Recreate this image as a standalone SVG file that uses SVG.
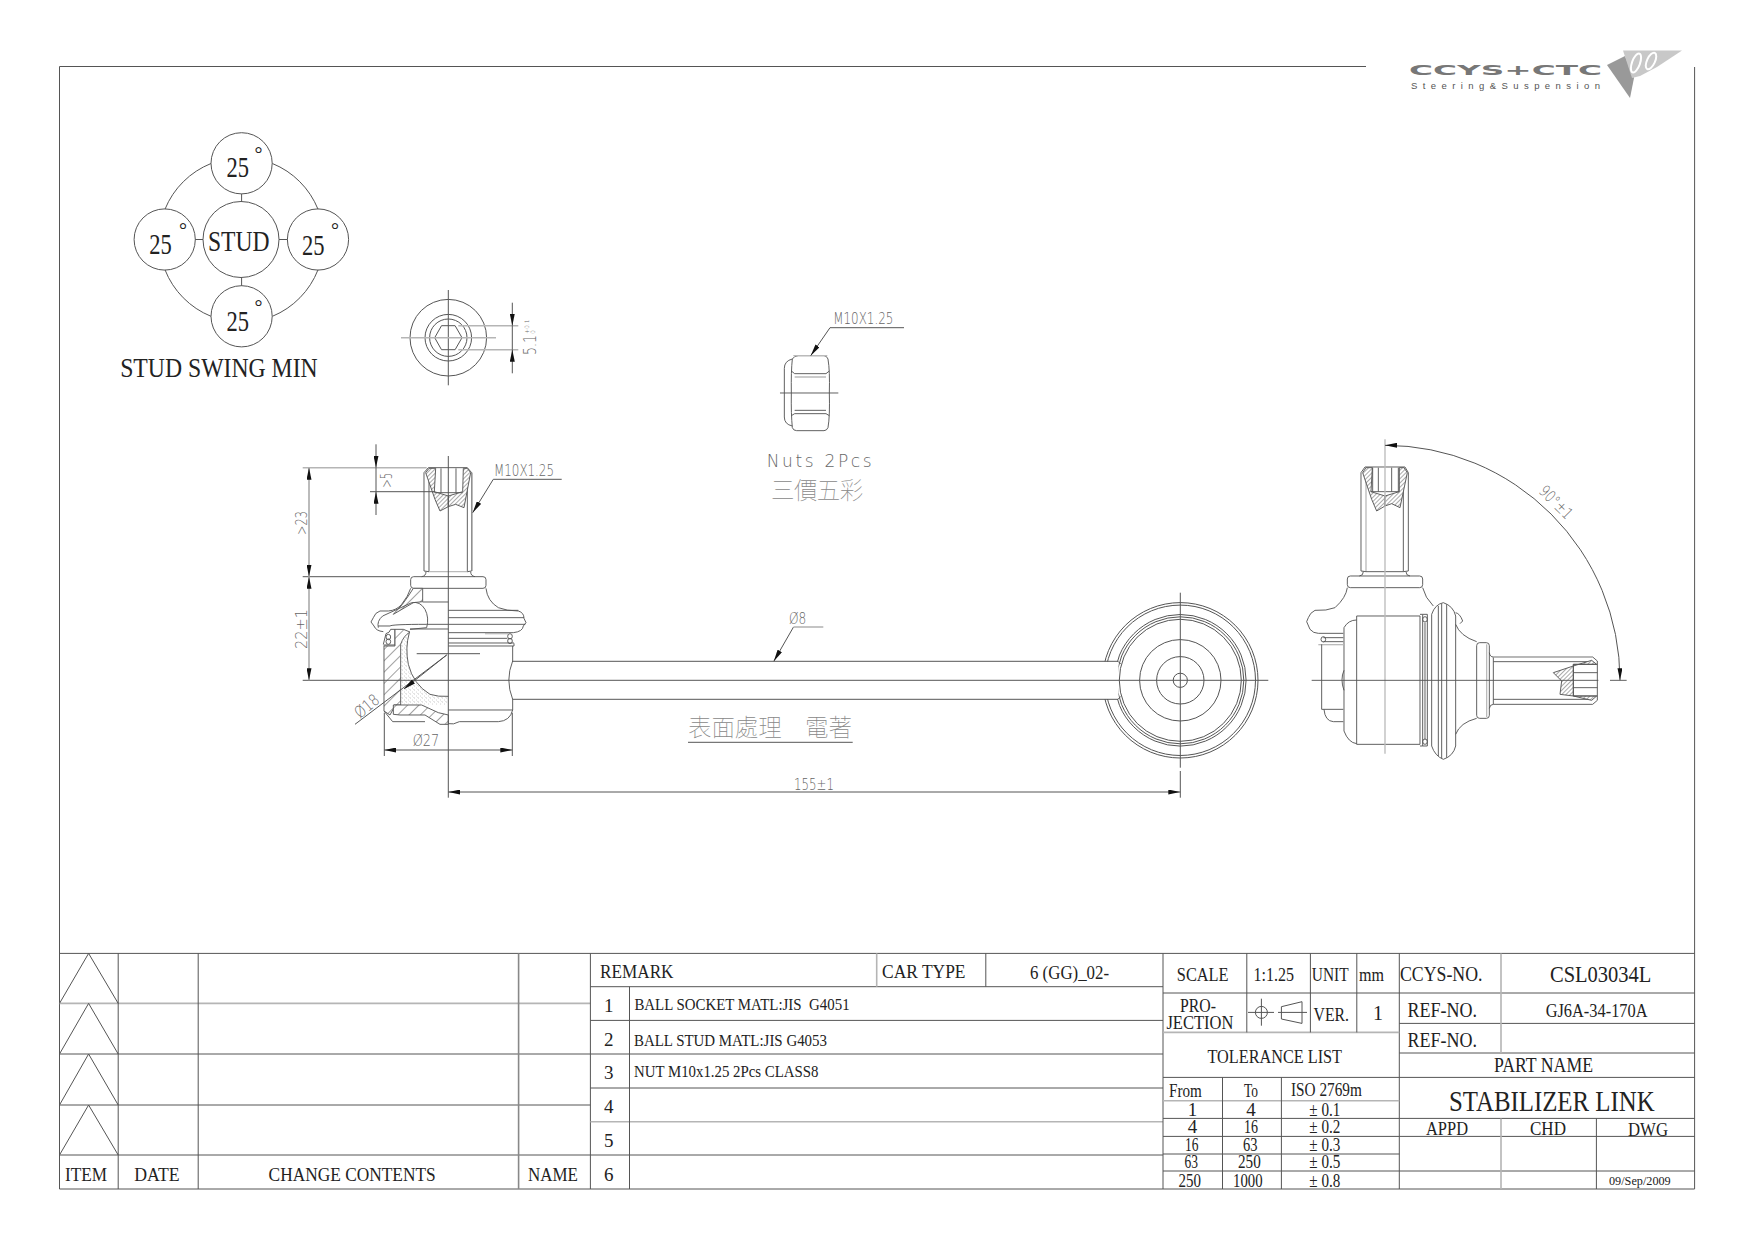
<svg xmlns="http://www.w3.org/2000/svg" width="1754" height="1240" viewBox="0 0 1754 1240">
<style>
text{white-space:pre}
.t{font-family:"Liberation Serif","Noto Sans CJK TC",serif;fill:#222;font-size:19px}
.s{font-size:17px}
.b{font-size:29px}
.d{font-family:"DejaVu Sans","Liberation Sans",sans-serif;font-weight:200;fill:#666;font-size:15px}
.k{font-family:"Noto Sans CJK TC",sans-serif;fill:#888;font-size:23.5px;font-weight:100}
.l{fill:none;stroke:#555;stroke-width:1}
.g{fill:none;stroke:#b5b5b5;stroke-width:1.6}
.z{fill:none;stroke:#555;stroke-width:2.8}
.y{fill:none;stroke:#bbb;stroke-width:4}
.h{fill:url(#h);stroke:#555;stroke-width:2.8}
.f{fill:url(#f);stroke:#555;stroke-width:2.8}
.p{fill:url(#p);stroke:none}
.w{fill:#fff;stroke:#555;stroke-width:2.8}
.r{fill:none;stroke:#555;stroke-width:1;marker-end:url(#a)}
.rr{fill:none;stroke:#555;stroke-width:1;marker-start:url(#a);marker-end:url(#a)}
.rg{fill:none;stroke:#aaa;stroke-width:1.6;marker-start:url(#a);marker-end:url(#a)}
</style>
<defs>
<marker id="a" markerUnits="userSpaceOnUse" markerWidth="12" markerHeight="5" refX="12" refY="2.5" orient="auto-start-reverse"><path d="M0 0L12 2.5L0 5Z" fill="#111"/></marker>
<pattern id="h" width="24" height="24" patternUnits="userSpaceOnUse" patternTransform="rotate(45)"><rect width="24" height="24" fill="#fff"/><path d="M0 0V24" stroke="#444" stroke-width="3"/></pattern>
<pattern id="f" width="9" height="9" patternUnits="userSpaceOnUse" patternTransform="rotate(45)"><rect width="9" height="9" fill="#fff"/><path d="M0 0V9" stroke="#555" stroke-width="3"/></pattern>
<pattern id="p" width="12" height="12" patternUnits="userSpaceOnUse"><circle cx="2" cy="3" r="1.2" fill="#888"/><circle cx="8" cy="9" r="1.2" fill="#999"/><circle cx="10" cy="2" r="1" fill="#aaa"/></pattern>
</defs>

<g id="frame">
<path class="l" d="M1366 66.5H59.500V1189H1694.600V67"/>
</g>

<g id="logo">
<text x="1409" y="75" font-family="DejaVu Sans" font-weight="700" font-size="14.5" fill="#777" textLength="193" lengthAdjust="spacingAndGlyphs">CCYS+CTC</text>
<text x="1411" y="88.500" font-family="Liberation Sans" font-size="9.5" fill="#555" textLength="189" lengthAdjust="spacing">Steering&amp;Suspension</text>
<path d="M1607 65L1625 56L1634 78L1630 98Z" fill="#999"/>
<path d="M1623 50.500H1682L1657 67L1640 76L1632 78Z" fill="#c8c8c8"/>
<ellipse cx="1636" cy="63" rx="4" ry="10" transform="rotate(20 1636 63)" fill="none" stroke="#fff" stroke-width="2"/>
<ellipse cx="1651" cy="61" rx="4" ry="9" transform="rotate(25 1651 61)" fill="none" stroke="#fff" stroke-width="2"/>
</g>

<g id="stud-swing" transform="translate(0,0.5)">
<path class="l" d="M211 163A83 83 0 0 0 165 208.700M272.400 163A83 83 0 0 1 318 208.700M165 269.300A83 83 0 0 0 211 315.800M318 269.300A83 83 0 0 1 272.400 315.800M241.600 193.300V201M241.600 277.300V285.300M195.200 239H203M279 239H287.500"/>
<circle class="l" cx="241.600" cy="162.800" r="30.600"/>
<circle class="l" cx="164.700" cy="239" r="30.600"/>
<circle class="l" cx="318" cy="239" r="30.600"/>
<circle class="l" cx="241.600" cy="315.800" r="30.600"/>
<circle class="l" cx="241" cy="239" r="38"/>
<text class="t b" x="226.500" y="176.700" textLength="22.500" lengthAdjust="spacingAndGlyphs">25</text>
<text class="t b" x="149.300" y="253.300" textLength="22.500" lengthAdjust="spacingAndGlyphs">25</text>
<text class="t b" x="302" y="254.300" textLength="22.500" lengthAdjust="spacingAndGlyphs">25</text>
<text class="t b" x="226.500" y="330" textLength="22.500" lengthAdjust="spacingAndGlyphs">25</text>
<text class="t" x="258.400" y="160" text-anchor="middle" style="font-size:20px">°</text>
<text class="t" x="182.900" y="236.700" text-anchor="middle" style="font-size:20px">°</text>
<text class="t" x="335" y="236.700" text-anchor="middle" style="font-size:20px">°</text>
<text class="t" x="258.400" y="313" text-anchor="middle" style="font-size:20px">°</text>
<text class="t b" x="208" y="250" textLength="61.600" lengthAdjust="spacingAndGlyphs">STUD</text>
<text class="t b" x="120.200" y="376.700" style="font-size:28px" textLength="197.500" lengthAdjust="spacingAndGlyphs">STUD SWING MIN</text>
</g>

<g id="hex-end" transform="translate(0,1)">
<circle class="l" cx="448.300" cy="336.700" r="38.300"/>
<circle class="l" cx="448.300" cy="336.700" r="23.300"/>
<circle class="l" cx="448.300" cy="336.700" r="18.700"/>
<path class="l" d="M434.700 336.700L441.500 324.700H455.100L462 336.700L455.100 348.700H441.500Z"/>
<path class="l" d="M448.300 289V384.300"/>
<path class="g" d="M401 336.700H496"/>
<path class="g" d="M458.300 324.700H518.300M458.300 348.700H518.300"/>
</g>

<g id="nut" transform="translate(390,281) scale(0.33333)">
<path class="z" d="M1207 234Q1213 224 1225 224H1302Q1310 224 1314 234Q1320 270 1318 336Q1320 405 1314 440Q1310 449 1302 449H1220Q1210 449 1207 440Q1203 400 1204 336Q1203 270 1207 234Z"/>
<path class="z" d="M1207 234Q1183 240 1183 262V408Q1183 430 1207 435"/>
<path class="z" d="M1204 270L1214 278H1308L1318 270M1204 404L1214 398H1308L1318 404M1214 388H1308"/>
<path class="y" d="M1214 288H1308M1210 224H1312"/>
<path class="z" d="M1170 336H1345"/>
</g>
<g id="nut-labels">
<text class="d" x="766.700" y="466.500" style="font-size:17px" textLength="105" lengthAdjust="spacing">Nuts 2Pcs</text>
<text class="k" x="771" y="499" textLength="92.300">三價五彩</text>
</g>

<g id="front-stud" transform="translate(280,441) scale(0.33333)">
<path class="z" d="M432 390V95L445 80H562L575 95V390"/>
<path class="z" d="M447 85V392M562 85V392"/>
<path class="y" d="M577 95V390M445 392H565"/>
<path class="z" d="M432 390L447 392M575 390L562 392M438 392Q438 405 425 407M572 392Q572 405 585 407"/>
<path class="f" d="M437 95L447 82H467L463 152L505 165V197L480 210L465 175Z"/>
<path class="f" d="M572 95L562 82H550L548 152L505 165V197L527 190L552 200Z"/>
<path class="z" d="M483 82V155M528 82V155M463 155H548"/>
</g>

<g id="front-joint" transform="translate(370,561) scale(0.33333)">
<rect class="z" x="122" y="47" width="226" height="35" rx="9"/>
<path class="z" d="M348 82Q352 120 385 140Q410 150 445 150Q462 155 462 172L468 185L460 195Q458 212 430 215H235"/>
<path class="z" d="M235 148H445M235 170H462M235 190H466M235 232H412M235 246H432"/>
<path class="y" d="M345 218H415"/>
<ellipse class="z" cx="420" cy="226" rx="7" ry="8"/>
<ellipse class="z" cx="420" cy="240" rx="7" ry="8"/>
<path class="z" d="M235 255H432V247"/>
<path class="z" d="M428 255V300Q405 357 428 415V447Q420 480 385 482H268Q250 492 235 488M235 447H428"/>
<path class="h" d="M130 82H158V122L130 125L70 160Q100 130 115 105Z"/>
<path class="z" d="M122 82Q115 105 95 130Q80 148 55 150H30Q15 155 10 170L3 183L12 195Q18 210 40 212"/>
<path class="z" d="M25 200Q20 180 38 165L125 125Q150 120 165 145Q178 170 170 200L120 205M25 195H60Q65 190 170 190"/>
<path class="z" d="M158 123H235M170 190H235M120 204H235"/>
<path class="z" d="M40 252H75V205H62Q60 215 48 218L40 250"/>
<ellipse class="z" cx="55" cy="228" rx="7" ry="8"/>
<ellipse class="z" cx="55" cy="242" rx="7" ry="8"/>
<path class="h" d="M42 255H75V205H100L120 213Q100 225 92 250V432H72V440L60 462L42 450Z"/>
<path class="p" d="M118 215Q105 260 115 310Q130 370 180 400Q205 408 235 406V432H180L150 430H92V250Q100 225 118 215Z"/>
<path class="z" d="M118 215Q105 260 115 310Q130 370 180 400Q205 408 235 406"/>
<path class="h" d="M70 432H155L205 455L235 462V490H210L165 462H90L70 460Z"/>
<path class="z" d="M42 450L68 482H165"/>
</g>

<g id="rod-eye" transform="translate(0,1)">
<circle class="l" cx="1180.300" cy="679.300" r="77.700"/>
<circle class="l" cx="1180.300" cy="679.300" r="75.200"/>
<circle class="l" cx="1180.300" cy="679.300" r="65.800"/>
<circle class="l" cx="1180.300" cy="679.300" r="63.500"/>
<rect x="1095" y="660.500" width="23.500" height="37.600" fill="#fff"/>
<circle class="l" cx="1180.300" cy="679.300" r="61"/>
<circle class="l" cx="1180.300" cy="679.300" r="40.700"/>
<circle class="l" cx="1180.300" cy="679.300" r="23.700"/>
<circle class="l" cx="1180.300" cy="679.300" r="7.100"/>
<path class="l" d="M512.300 660.300H1118L1120.700 663M512.300 698.300H1118L1120.700 695.500"/>
<path class="l" d="M1180.300 591.700V766.700M1180.300 770V796.700"/>
</g>

<g id="side-view" transform="translate(1290,431) scale(0.33333)">
<path class="z" d="M213 420V125L225 108H345L355 125V420"/>
<path class="z" d="M340 115V422"/>
<path class="y" d="M228 115V422"/>
<path class="z" d="M213 420L228 422H340L355 420M220 422Q220 434 208 435M348 422Q348 434 360 435"/>
<path class="f" d="M218 125L228 110H247L243 182L285 195V225L260 240L245 205Z"/>
<path class="f" d="M352 125L342 110H328L328 182L285 195V225L305 218L330 230Z"/>
<path class="z" d="M248 110V182M265 110V182M305 110V182M325 110V182M243 182H328"/>
<rect class="z" x="172" y="435" width="226" height="35" rx="9"/>
<path class="z" d="M172 470Q168 500 135 530Q110 540 75 538Q60 545 55 560L50 572L60 595Q70 607 85 607H160"/>
<path class="z" d="M398 470Q405 500 430 525"/>
<path class="z" d="M200 555H390V940H200Z"/>
<path class="z" d="M200 567Q175 567 162 590V900Q175 935 200 938"/>
<path class="z" d="M390 550H398V945H390M398 550H412M398 945H412M405 575V925M412 550V945"/>
<ellipse class="z" cx="405" cy="565" rx="7" ry="8"/>
<ellipse class="z" cx="405" cy="932" rx="7" ry="8"/>
<path class="w" d="M425 550Q435 520 460 515Q490 525 497 555V945Q490 975 460 985Q435 975 425 945Z"/>
<path class="z" d="M445 525V975M455 518V982M470 520V980"/>
<path class="z" d="M497 545Q510 548 518 570L510 578M497 580Q510 615 560 632"/>
<path class="z" d="M497 910Q510 875 560 862"/>
<rect class="z" x="560" y="635" width="38" height="227" rx="9"/>
<path class="y" d="M590 640V858"/>
<path class="z" d="M598 665Q600 678 610 678M598 832Q600 820 610 820"/>
<path class="z" d="M610 678H908L922 690V808L908 820H610Z"/>
<path class="z" d="M610 805H908M610 692H908"/>
<path class="y" d="M610 678H908"/>
<path class="f" d="M790 725L850 705L905 688L920 700H850V795H920L905 808L850 795L810 790L815 750Z"/>
<path class="z" d="M850 700V795M850 700H922M850 725H922M850 770H922M850 795H922"/>
<ellipse class="z" cx="100" cy="625" rx="7" ry="8"/>
<path class="y" d="M85 641H160"/>
<path class="z" d="M100 620H160M100 632H160M95 640V835H160M102 835Q105 870 130 872H160"/>
<path class="z" d="M162 718Q150 745 162 778"/>
<path class="y" d="M285 25V968"/>
<path class="z" d="M65 748H925M960 748H1010"/>
</g>

<g id="connectors" transform="translate(0,1)">
<path class="g" d="M302.700 466.700H426.700"/>
<path class="l" d="M370 490.700H435M302.700 575.700H410M302.700 679.300H1268.300"/>
<path class="rg" d="M309 466.700V575.700"/>
<path class="rg" d="M309 575.700V679.300"/>
<path class="r" d="M376 443.300V466.700"/>
<path class="l" d="M376 466.700V490.700"/>
<path class="r" d="M376 514V490.700"/>
<path class="r" d="M512.300 301.700V324.700"/>
<path class="l" d="M512.300 324.700V348.700"/>
<path class="r" d="M512.300 372.300V348.700"/>
<path class="l" d="M384.300 711.700V755M512.300 711.700V755"/>
<path class="rr" d="M384.300 749H512.300"/>
<path class="l" d="M448.300 455V796.700"/>
<path class="rr" d="M448.300 791H1180.300"/>
<path class="rr" d="M1385 444.300A235 235 0 0 1 1620 679.300"/>
<path class="r" d="M561.700 478.300H493.300L472.700 511.700"/>
<path class="r" d="M904 326.700H830L810.700 354.700"/>
<path class="r" d="M793.500 626L773.800 660.300"/>
<path class="g" d="M793.500 626H823.300"/>
<path class="l" d="M355 723.300L446.700 654"/>
<path class="r" d="M446.700 654L404 688"/>
<path class="l" d="M416.700 652.700H480"/>
<path class="l" d="M688 741.300H852.700"/>
</g>

<g id="dimension-labels" transform="translate(0,1)">
<text class="d" x="494" y="475" textLength="60" lengthAdjust="spacingAndGlyphs">M10X1.25</text>
<text class="d" x="833.300" y="323.300" textLength="60" lengthAdjust="spacingAndGlyphs">M10X1.25</text>
<text class="d" transform="translate(306.700,534) rotate(-90)" textLength="24" lengthAdjust="spacingAndGlyphs">&gt;23</text>
<text class="d" transform="translate(392.300,486.700) rotate(-90)" textLength="15" lengthAdjust="spacingAndGlyphs">&gt;5</text>
<text class="d" transform="translate(306.700,648) rotate(-90)" style="font-size:16px" textLength="40" lengthAdjust="spacingAndGlyphs">22±1</text>
<text class="d" transform="translate(536,354) rotate(-90)" style="font-size:17px" textLength="20" lengthAdjust="spacingAndGlyphs">5.1</text>
<text class="d" transform="translate(529,333) rotate(-90)" style="font-size:6px">+0.1</text>
<text class="d" transform="translate(535,333) rotate(-90)" style="font-size:6px">0</text>
<text class="d" x="412.700" y="745" textLength="26.600" lengthAdjust="spacingAndGlyphs">Ø27</text>
<text class="d" transform="translate(360,718) rotate(-40)" style="font-size:16px" textLength="27" lengthAdjust="spacingAndGlyphs">Ø18</text>
<text class="d" x="789" y="622.700" textLength="17.300" lengthAdjust="spacingAndGlyphs">Ø8</text>
<text class="d" x="794" y="789" textLength="40" lengthAdjust="spacingAndGlyphs">155±1</text>
<text class="d" transform="translate(1538,491) rotate(45)" style="font-size:16px" textLength="40" lengthAdjust="spacingAndGlyphs">90°±1</text>
<text class="k" x="688" y="735" textLength="164">表面處理　電著</text>
</g>

<g id="title-block" transform="translate(0,0.7)">
<path class="l" d="M59.500 952.700H1694.600"/>
<path class="g" d="M59.500 1002.700H590.400"/>
<path class="l" d="M59.500 1053.300H590.400M59.500 1104.300H590.400M59.500 1154.300H590.400"/>
<path class="l" d="M118.200 952.700V1188.300M198.200 952.700V1188.300M590.400 952.700V1188.300"/>
<path class="g" style="stroke:#888" d="M518.600 952.700V1188.300"/>
<path class="l" d="M59.500 1002.700L88.600 952.700L118.200 1002.700M59.500 1053.300L88.600 1002.700L118.200 1053.300M59.500 1104.300L88.600 1053.300L118.200 1104.300M59.500 1154.300L88.600 1104.300L118.200 1154.300"/>
<text class="t" x="65" y="1180" textLength="42" lengthAdjust="spacingAndGlyphs">ITEM</text>
<text class="t" x="134.300" y="1180" textLength="45.300" lengthAdjust="spacingAndGlyphs">DATE</text>
<text class="t" x="268.600" y="1180" textLength="167.100" lengthAdjust="spacingAndGlyphs">CHANGE CONTENTS</text>
<text class="t" x="527.900" y="1180" textLength="50" lengthAdjust="spacingAndGlyphs">NAME</text>

<path class="l" d="M590.400 986H1163M590.400 1019.700H1163M590.400 1053.300H1163M590.400 1087.300H1163M590.400 1154.300H1163"/>
<path class="g" d="M590.400 1121H1163"/>
<path class="l" d="M629.500 986V1188.300M985.800 952.700V986"/>
<path class="g" d="M876.700 952.700V986"/>
<text class="t" x="600" y="977.700" textLength="73.500" lengthAdjust="spacingAndGlyphs">REMARK</text>
<text class="t" x="882" y="977.700" textLength="83.500" lengthAdjust="spacingAndGlyphs">CAR TYPE</text>
<text class="t" x="1030" y="978" textLength="79" lengthAdjust="spacingAndGlyphs">6 (GG)_02-</text>
<text class="t" x="604" y="1011.500">1</text>
<text class="t" x="604" y="1045">2</text>
<text class="t" x="604" y="1078.500">3</text>
<text class="t" x="604" y="1112">4</text>
<text class="t" x="604" y="1146">5</text>
<text class="t" x="604" y="1180">6</text>
<text class="t s" x="634.400" y="1009.300" textLength="215.200" lengthAdjust="spacingAndGlyphs">BALL SOCKET MATL:JIS  G4051</text>
<text class="t s" x="634" y="1045" textLength="193" lengthAdjust="spacingAndGlyphs">BALL STUD MATL:JIS G4053</text>
<text class="t s" x="634" y="1076" textLength="184.400" lengthAdjust="spacingAndGlyphs">NUT M10x1.25 2Pcs CLASS8</text>

<path class="l" d="M1163 952.700V1188.300M1399.300 952.700V1188.300"/>
<path class="l" d="M1163 992.300H1399.300M1163 1076.700H1399.300M1163 1117.700H1399.300M1163 1135.700H1399.300M1163 1153.300H1399.300M1163 1170.300H1399.300"/>
<path class="g" d="M1163 1031.700H1399.300M1163 1100H1399.300"/>
<path class="l" d="M1246.800 952.700V1031.700M1310.400 952.700V1031.700M1356.800 952.700V1031.700M1222.500 1076.700V1188.300M1281.400 1076.700V1188.300"/>
<path class="l" d="M1248 1011.700H1274M1261.400 998V1025M1278 1011.700H1307M1281.400 1006V1018.300L1302 1022.700V1001Z"/>
<circle class="l" cx="1261.400" cy="1011.700" r="6"/>
<text class="t" x="1176.800" y="980" textLength="51.800" lengthAdjust="spacingAndGlyphs">SCALE</text>
<text class="t" x="1253.600" y="980" textLength="40.400" lengthAdjust="spacingAndGlyphs">1:1.25</text>
<text class="t" x="1311.800" y="980" textLength="36.800" lengthAdjust="spacingAndGlyphs">UNIT</text>
<text class="t" x="1359" y="980" textLength="25" lengthAdjust="spacingAndGlyphs">mm</text>
<text class="t" x="1180" y="1011" textLength="36" lengthAdjust="spacingAndGlyphs">PRO-</text>
<text class="t" x="1166.400" y="1028" textLength="67" lengthAdjust="spacingAndGlyphs">JECTION</text>
<text class="t" x="1313.600" y="1020" textLength="35.400" lengthAdjust="spacingAndGlyphs">VER.</text>
<text class="t" x="1373" y="1019.300" style="font-size:20px">1</text>
<text class="t" x="1207.500" y="1062.300" textLength="134.500" lengthAdjust="spacingAndGlyphs">TOLERANCE LIST</text>
<text class="t" x="1169" y="1096" textLength="32.800" lengthAdjust="spacingAndGlyphs">From</text>
<text class="t" x="1244" y="1096" textLength="14" lengthAdjust="spacingAndGlyphs">To</text>
<text class="t" x="1291" y="1095" textLength="70.800" lengthAdjust="spacingAndGlyphs">ISO 2769m</text>
<text class="t" x="1192.500" y="1115.700" text-anchor="middle">1</text>
<text class="t" x="1251" y="1115.700" text-anchor="middle">4</text>
<text class="t" x="1309.300" y="1115.700" textLength="31" lengthAdjust="spacingAndGlyphs">± 0.1</text>
<text class="t" x="1192.500" y="1132.700" text-anchor="middle">4</text>
<text class="t" x="1244" y="1132.700" textLength="14" lengthAdjust="spacingAndGlyphs">16</text>
<text class="t" x="1309.300" y="1132.700" textLength="31" lengthAdjust="spacingAndGlyphs">± 0.2</text>
<text class="t" x="1185" y="1150" textLength="13.500" lengthAdjust="spacingAndGlyphs">16</text>
<text class="t" x="1243" y="1150" textLength="14.500" lengthAdjust="spacingAndGlyphs">63</text>
<text class="t" x="1309.300" y="1150" textLength="31" lengthAdjust="spacingAndGlyphs">± 0.3</text>
<text class="t" x="1184.500" y="1167.300" textLength="13.500" lengthAdjust="spacingAndGlyphs">63</text>
<text class="t" x="1238" y="1167.300" textLength="22.700" lengthAdjust="spacingAndGlyphs">250</text>
<text class="t" x="1309.300" y="1167.300" textLength="31" lengthAdjust="spacingAndGlyphs">± 0.5</text>
<text class="t" x="1178.600" y="1186.700" textLength="22.400" lengthAdjust="spacingAndGlyphs">250</text>
<text class="t" x="1233" y="1186.700" textLength="29.500" lengthAdjust="spacingAndGlyphs">1000</text>
<text class="t" x="1309.300" y="1186.700" textLength="31" lengthAdjust="spacingAndGlyphs">± 0.8</text>

<path class="l" d="M1399.300 992.300H1694.600M1399.300 1022.700H1694.600M1399.300 1052.300H1694.600M1399.300 1076.700H1694.600M1399.300 1117.700H1694.600M1399.300 1135.700H1694.600M1399.300 1170.300H1694.600"/>
<path class="g" d="M1501 952.700V1052.300M1501 1117.700V1188.300"/>
<path class="l" d="M1596.400 1117.700V1188.300"/>
<text class="t" x="1400" y="980.700" style="font-size:20px" textLength="82.500" lengthAdjust="spacingAndGlyphs">CCYS-NO.</text>
<text class="t" x="1550" y="981.700" style="font-size:23px" textLength="101.400" lengthAdjust="spacingAndGlyphs">CSL03034L</text>
<text class="t" x="1407.500" y="1016.700" style="font-size:20px" textLength="69.500" lengthAdjust="spacingAndGlyphs">REF-NO.</text>
<text class="t" x="1545.700" y="1016.700" textLength="101.800" lengthAdjust="spacingAndGlyphs">GJ6A-34-170A</text>
<text class="t" x="1407.500" y="1046" style="font-size:20px" textLength="69.500" lengthAdjust="spacingAndGlyphs">REF-NO.</text>
<text class="t" x="1494" y="1071" style="font-size:20px" textLength="99" lengthAdjust="spacingAndGlyphs">PART NAME</text>
<text class="t" x="1449" y="1110.500" style="font-size:30px" textLength="205.600" lengthAdjust="spacingAndGlyphs">STABILIZER LINK</text>
<text class="t" x="1426" y="1134" textLength="42" lengthAdjust="spacingAndGlyphs">APPD</text>
<text class="t" x="1530" y="1134" textLength="36" lengthAdjust="spacingAndGlyphs">CHD</text>
<text class="t" x="1628" y="1135" textLength="40" lengthAdjust="spacingAndGlyphs">DWG</text>
<text class="t" x="1609" y="1184" style="font-size:13.500px" textLength="61.700" lengthAdjust="spacingAndGlyphs">09/Sep/2009</text>
</g>
</svg>
